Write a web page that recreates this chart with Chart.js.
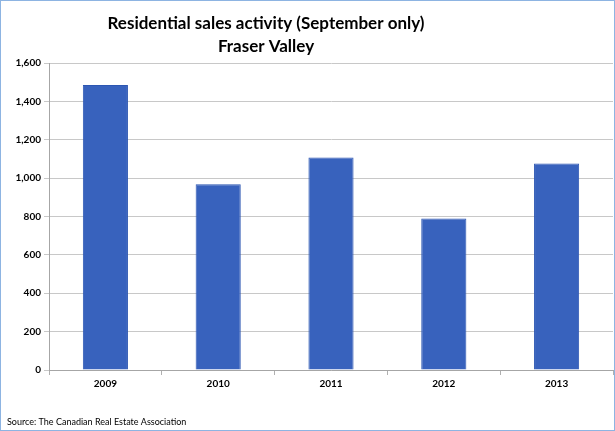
<!DOCTYPE html>
<html>
<head>
<meta charset="utf-8">
<script src="https://cdn.jsdelivr.net/npm/chart.js@4.4.0/dist/chart.umd.min.js"></script>
<style>
    html, body { margin: 0; padding: 0; background: #fff; }
    #wrap {
        width: 613px;
        height: 429px;
        border: 1px solid #8db4e2;
        position: relative;
    }
</style>
</head>
<body>
<div id="wrap"><canvas id="chart"></canvas></div>
<script>
// Chart data
var years = ['2009', '2010', '2011', '2012', '2013'];
var sales = [1485, 968, 1107, 789, 1076];
var yTicks = [0, 200, 400, 600, 800, 1000, 1200, 1400, 1600];

var titleLines = ['Residential sales activity (September only)', 'Fraser Valley'];
var sourceText = 'Source: The Canadian Real Estate Association';

// The original title sits left of centre, so it is drawn by hand
var titlePlugin = {
    id: 'offsetTitle',
    afterDraw: function(chart) {
        var c = chart.ctx;
        c.save();
        c.fillStyle = '#000';
        c.font = 'bold 17px Lato';
        c.textAlign = 'center';
        c.textBaseline = 'alphabetic';
        c.fillText(titleLines[0], 265, 27.5);
        c.fillText(titleLines[1], 265, 51);
        c.restore();
    }
};

var ctx = document.getElementById('chart').getContext('2d');
new Chart(ctx, {
    type: 'bar',
    data: {
        labels: years,
        datasets: [{
            label: 'Residential sales',
            data: sales,
            backgroundColor: '#3862bd',
            borderColor: '#2c56b2',
            borderWidth: 1,
            barPercentage: 0.4,
            categoryPercentage: 1.0
        }]
    },
    plugins: [titlePlugin],
    options: {
        responsive: true,
        maintainAspectRatio: false,
        animation: false,
        layout: {
            padding: { left: 6, right: 1, top: 62, bottom: 2 }
        },
        plugins: {
            legend: { display: false },
            tooltip: { enabled: false },
            title: { display: false },
            subtitle: {
                display: true,
                text: sourceText,
                position: 'bottom',
                align: 'start',
                color: '#000',
                font: { family: 'Lato', size: 9, lineHeight: '12px' },
                padding: { top: 23, bottom: 0 }
            }
        },
        scales: {
            x: {
                offset: true,
                grid: {
                    offset: true,
                    drawOnChartArea: false,
                    drawTicks: true,
                    tickLength: 5,
                    color: '#b0b0b0'
                },
                border: { display: true, color: '#a6a6a6' },
                ticks: {
                    color: '#000',
                    padding: 3,
                    font: { family: 'Lato', size: 10, weight: 'bold', lineHeight: '12px' }
                }
            },
            y: {
                min: 0,
                max: 1600,
                afterBuildTicks: function(scale) {
                    scale.ticks = yTicks.map(function(v) { return { value: v }; });
                },
                afterFit: function(scale) {
                    scale.width = 42;
                },
                grid: {
                    color: '#c8c8c8',
                    tickLength: 5
                },
                border: { display: true, color: '#a6a6a6' },
                ticks: {
                    color: '#000',
                    padding: 3,
                    font: { family: 'Lato', size: 10, weight: 'bold' },
                    callback: function(v) { return v.toLocaleString('en-US'); }
                }
            }
        }
    }
});
</script>
</body>
</html>
